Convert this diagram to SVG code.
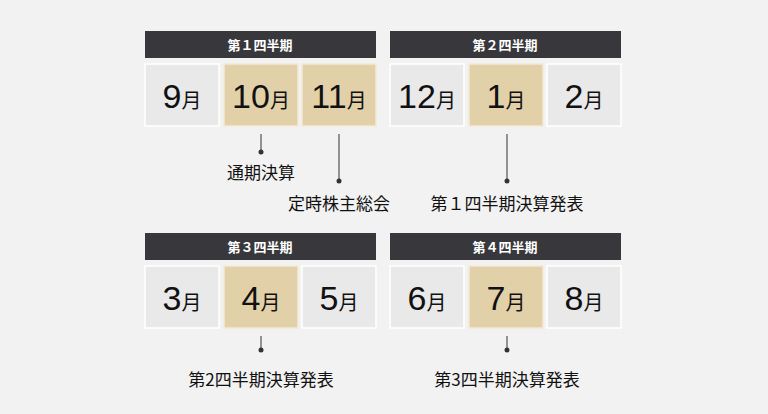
<svg xmlns="http://www.w3.org/2000/svg" width="768" height="414" viewBox="0 0 768 414">
<style>
.hd{fill:#38383c}
.ht{fill:#fff;font:bold 13px "Noto Sans CJK JP",sans-serif;text-anchor:middle}
.g{fill:#e9e9ea;stroke:#fff;stroke-width:1.5}
.t{fill:#e2d0a9;stroke:#f4ead6;stroke-width:1.5}
.n{fill:#111;font:34px "Liberation Sans",sans-serif;text-anchor:middle}
.m{font:20px "Noto Sans CJK JP",sans-serif}
.l{stroke:#333;stroke-width:1}
.lb{fill:#111;font:17px "Noto Sans CJK JP",sans-serif;text-anchor:middle}
</style>
<rect width="768" height="414" fill="#f2f2f2"/>
<g id="q1"><rect class="hd" x="145" y="31" width="231" height="27"/><text class="ht" x="260" y="50">第１四半期</text></g>
<g id="q2"><rect class="hd" x="390" y="31" width="231" height="27"/><text class="ht" x="505" y="50">第２四半期</text></g>
<g id="q3"><rect class="hd" x="145" y="233" width="231" height="27"/><text class="ht" x="260" y="252">第３四半期</text></g>
<g id="q4"><rect class="hd" x="390" y="233" width="231" height="27"/><text class="ht" x="505" y="252">第４四半期</text></g>
<g id="m9"><rect class="g" x="145" y="64" width="74" height="62"/><text class="n" x="182" y="108">9<tspan class="m">月</tspan></text></g>
<g id="m10"><rect class="t" x="224" y="64" width="74" height="62"/><text class="n" x="261" y="108">10<tspan class="m">月</tspan></text></g>
<g id="m11"><rect class="t" x="302" y="64" width="74" height="62"/><text class="n" x="339" y="108">11<tspan class="m">月</tspan></text></g>
<g id="m12"><rect class="g" x="390" y="64" width="74" height="62"/><text class="n" x="427" y="108">12<tspan class="m">月</tspan></text></g>
<g id="m1"><rect class="t" x="469" y="64" width="74" height="62"/><text class="n" x="506" y="108">1<tspan class="m">月</tspan></text></g>
<g id="m2"><rect class="g" x="547" y="64" width="74" height="62"/><text class="n" x="584" y="108">2<tspan class="m">月</tspan></text></g>
<g id="m3"><rect class="g" x="145" y="266" width="74" height="62"/><text class="n" x="182" y="310">3<tspan class="m">月</tspan></text></g>
<g id="m4"><rect class="t" x="224" y="266" width="74" height="62"/><text class="n" x="261" y="310">4<tspan class="m">月</tspan></text></g>
<g id="m5"><rect class="g" x="302" y="266" width="74" height="62"/><text class="n" x="339" y="310">5<tspan class="m">月</tspan></text></g>
<g id="m6"><rect class="g" x="390" y="266" width="74" height="62"/><text class="n" x="427" y="310">6<tspan class="m">月</tspan></text></g>
<g id="m7"><rect class="t" x="469" y="266" width="74" height="62"/><text class="n" x="506" y="310">7<tspan class="m">月</tspan></text></g>
<g id="m8"><rect class="g" x="547" y="266" width="74" height="62"/><text class="n" x="584" y="310">8<tspan class="m">月</tspan></text></g>
<g id="connectors" fill="#333">
<line class="l" x1="261" y1="134" x2="261" y2="151"/><circle cx="261" cy="152" r="2.5"/>
<line class="l" x1="339" y1="134" x2="339" y2="180"/><circle cx="339" cy="181" r="2.5"/>
<line class="l" x1="507" y1="134" x2="507" y2="180"/><circle cx="507" cy="181" r="2.5"/>
<line class="l" x1="261" y1="336" x2="261" y2="349"/><circle cx="261" cy="350" r="2.5"/>
<line class="l" x1="507" y1="336" x2="507" y2="349"/><circle cx="507" cy="350" r="2.5"/>
</g>
<g id="labels">
<text class="lb" x="261" y="179">通期決算</text>
<text class="lb" x="339" y="210">定時株主総会</text>
<text class="lb" x="507" y="210">第１四半期決算発表</text>
<text class="lb" x="261" y="386">第2四半期決算発表</text>
<text class="lb" x="507" y="386">第3四半期決算発表</text>
</g>
</svg>
